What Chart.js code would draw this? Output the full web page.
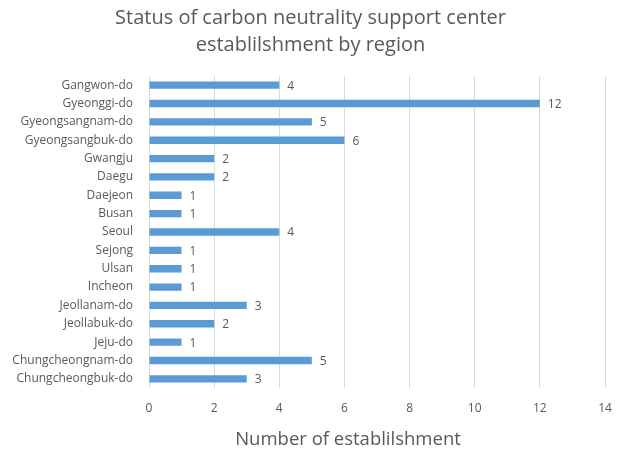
<!DOCTYPE html>
<html>
<head>
<meta charset="utf-8">
<script src="https://cdn.jsdelivr.net/npm/chart.js@4"></script>
<style>
  html, body { margin: 0; padding: 0; background: #fff; }
  #wrap { width: 621px; height: 450px; }
</style>
</head>
<body>
<div id="wrap"><canvas id="chart"></canvas></div>
<script>
const regions = [
  "Gangwon-do", "Gyeonggi-do", "Gyeongsangnam-do", "Gyeongsangbuk-do",
  "Gwangju", "Daegu", "Daejeon", "Busan", "Seoul", "Sejong", "Ulsan",
  "Incheon", "Jeollanam-do", "Jeollabuk-do", "Jeju-do",
  "Chungcheongnam-do", "Chungcheongbuk-do"
]
const centers = [4, 12, 5, 6, 2, 2, 1, 1, 4, 1, 1, 1, 3, 2, 1, 5, 3]
const xTicks = [0, 2, 4, 6, 8, 10, 12, 14]
const titleLines = ["Status of carbon neutrality support center", "establilshment by region"]
const xTitle = "Number of establilshment"

const FONT = "'Open Sans', sans-serif"
const GRAY = "#595959"

// значения справа от баров + заголовки (по центру холста, как в оригинале)
const extras = {
  id: "extras",
  afterDatasetsDraw(chart) {
    const { ctx } = chart
    const meta = chart.getDatasetMeta(0)
    ctx.save()
    ctx.font = `12px ${FONT}`
    ctx.fillStyle = GRAY
    ctx.textAlign = "left"
    ctx.textBaseline = "middle"
    meta.data.forEach((bar, i) => {
      ctx.fillText(String(centers[i]), bar.x + 8, bar.y + 1)
    })

    ctx.textAlign = "center"
    ctx.font = `20px ${FONT}`
    ctx.fillText(titleLines[0], chart.width / 2, 18)
    ctx.fillText(titleLines[1], chart.width / 2, 45)

    ctx.font = `18.5px ${FONT}`
    ctx.fillText(xTitle, 348, 440)
    ctx.restore()
  }
}

new Chart(document.getElementById("chart"), {
  type: "bar",
  data: {
    labels: regions,
    datasets: [{
      data: centers,
      backgroundColor: "#5B9BD5",
      barPercentage: 0.8,
      categoryPercentage: 0.5
    }]
  },
  options: {
    indexAxis: "y",
    responsive: true,
    maintainAspectRatio: false,
    animation: false,
    layout: { padding: { left: 0, right: 16, top: 76, bottom: 0 } },
    plugins: {
      legend: { display: false },
      tooltip: { enabled: false },
      title: { display: false }
    },
    scales: {
      x: {
        min: 0,
        max: 14,
        afterBuildTicks: (axis) => { axis.ticks = xTicks.map(v => ({ value: v })) },
        afterFit: (axis) => {
          axis.height = 62
          axis.paddingLeft = 0
          axis.paddingRight = 0
        },
        grid: { color: "#d9d9d9", drawTicks: false },
        border: { display: false },
        ticks: {
          color: GRAY,
          padding: 13,
          font: { family: FONT, size: 12 }
        }
      },
      y: {
        afterFit: (axis) => { axis.width = 149 },
        grid: { display: false },
        border: { display: false },
        ticks: {
          color: GRAY,
          padding: 8,
          autoSkip: false,
          font: { family: FONT, size: 12 }
        }
      }
    }
  },
  plugins: [extras]
})
</script>
</body>
</html>
